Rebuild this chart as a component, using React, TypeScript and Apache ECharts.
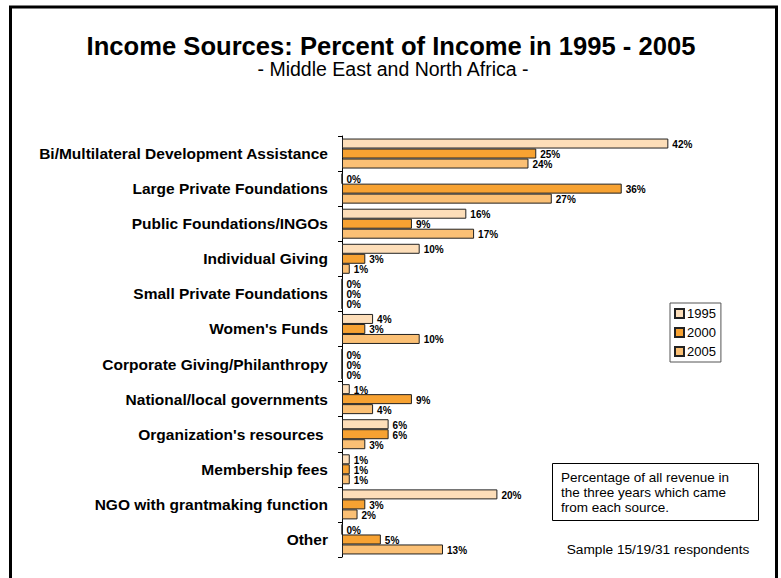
import React, { useEffect, useRef } from "react";
import * as echarts from "echarts";

const categories = [
  "Bi/Multilateral Development Assistance",
  "Large Private Foundations",
  "Public Foundations/INGOs",
  "Individual Giving",
  "Small Private Foundations",
  "Women's Funds",
  "Corporate Giving/Philanthropy",
  "National/local governments",
  "Organization's resources ",
  "Membership fees",
  "NGO with grantmaking function",
  "Other",
];
const years = ["1995", "2000", "2005"];
const values1995 = [42, 0, 16, 10, 0, 4, 0, 1, 6, 1, 20, 0];
const values2000 = [25, 36, 9, 3, 0, 3, 0, 9, 6, 1, 3, 5];
const values2005 = [24, 27, 17, 1, 0, 10, 0, 4, 3, 1, 2, 13];
const colors = ["#FDDEB9", "#F7A232", "#FBC075"];

export default function App() {
  const ref = useRef<HTMLDivElement>(null);
  useEffect(() => {
    if (!ref.current) return;
    const chart = echarts.init(ref.current, undefined, { renderer: "svg" });
    const font = "Arial, 'Liberation Sans', Helvetica, sans-serif";
    const seriesData = [values1995, values2000, values2005];
    chart.setOption({
      animation: false,
      backgroundColor: "#fff",
      textStyle: { fontFamily: font },
      legend: {
        orient: "vertical",
        left: 670,
        top: 303,
        itemWidth: 9,
        itemHeight: 9,
        itemGap: 6,
        padding: [4, 5, 4, 4],
        borderColor: "#555",
        borderWidth: 1,
        icon: "rect",
        textStyle: { fontSize: 13, color: "#000", fontFamily: font, padding: [0, 0, 0, -2] },
        data: years,
      },
      grid: { left: 342, top: 136, width: 388.5, height: 421, containLabel: false },
      xAxis: {
        type: "value",
        min: 0,
        max: 50,
        show: false,
      },
      yAxis: {
        type: "category",
        inverse: true,
        data: categories,
        axisLine: { show: true, lineStyle: { color: "#000", width: 1 } },
        axisTick: { show: true, length: 4, lineStyle: { color: "#000" } },
        axisLabel: {
          margin: 14,
          fontSize: 15.5,
          fontWeight: "bold",
          color: "#000",
          fontFamily: font,
        },
      },
      series: years.map((y, i) => ({
        name: y,
        type: "bar",
        data: seriesData[i],
        barWidth: 10,
        barGap: "0%",
        itemStyle: { color: colors[i], borderColor: "#222", borderWidth: 1 },
        label: {
          show: true,
          position: "right",
          distance: 4,
          offset: [0, 1],
          formatter: "{c}%",
          fontSize: 10,
          fontWeight: "bold",
          color: "#000",
          fontFamily: font,
        },
      })),
      graphic: [
        {
          type: "polyline",
          shape: { points: [[10.5, 600], [10.5, 7], [776.5, 7], [776.5, 600]] },
          style: { stroke: "#000", lineWidth: 3, fill: null },
        },
        {
          type: "text",
          x: 391,
          y: 46,
          style: {
            text: "Income Sources: Percent of Income in 1995 - 2005",
            font: `bold 25.6px ${font}`,
            fill: "#000",
            align: "center",
            verticalAlign: "middle",
          },
        },
        {
          type: "text",
          x: 393,
          y: 69,
          style: {
            text: "- Middle East and North Africa -",
            font: `19.5px ${font}`,
            fill: "#000",
            align: "center",
            verticalAlign: "middle",
          },
        },
        {
          type: "rect",
          shape: { x: 552.5, y: 463.5, width: 206, height: 57 },
          style: { stroke: "#000", lineWidth: 1, fill: "#fff" },
        },
        {
          type: "text",
          x: 561,
          y: 470,
          style: {
            text: "Percentage of all revenue in\nthe three years which came\nfrom each source.",
            font: `13.5px ${font}`,
            lineHeight: 15,
            fill: "#000",
          },
        },
        {
          type: "text",
          x: 658,
          y: 549,
          style: {
            text: "Sample 15/19/31 respondents",
            font: `13.7px ${font}`,
            fill: "#000",
            align: "center",
            verticalAlign: "middle",
          },
        },
      ],
    });
    return () => chart.dispose();
  }, []);
  return (
    <div
      ref={ref}
      style={{ position: "absolute", left: 0, top: 0, width: 781, height: 578 }}
    />
  );
}
